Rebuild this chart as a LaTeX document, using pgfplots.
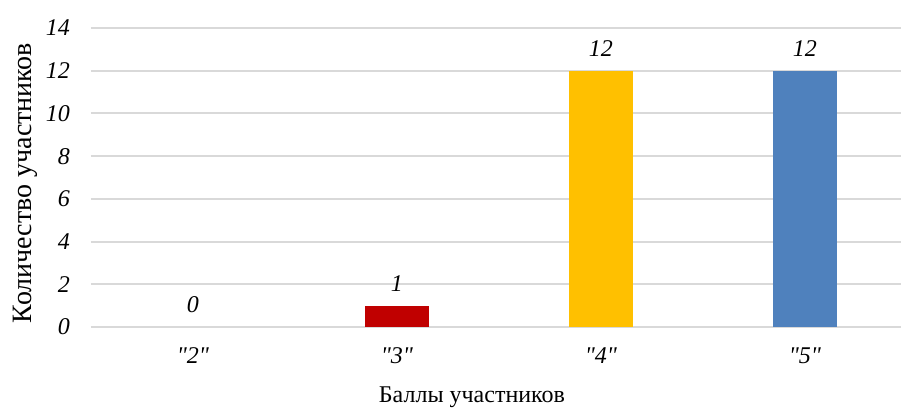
\documentclass[border=0pt]{standalone}
\usepackage{fontspec}
\setmainfont{Liberation Serif}
\usepackage{pgfplots}
\pgfplotsset{compat=1.18}
\definecolor{cred}{HTML}{C00000}
\definecolor{cyel}{HTML}{FFC000}
\definecolor{cblue}{HTML}{4F81BD}
\definecolor{cgrid}{HTML}{D9D9D9}
\begin{document}
\begin{tikzpicture}
\useasboundingbox (-45.5pt,-40.5pt) rectangle (405pt,163.5pt);
\begin{axis}[
  at={(0,0)}, anchor=south west,
  scale only axis, width=408pt, height=149.5pt,
  xmin=-0.5, xmax=3.5, ymin=0, ymax=14,
  ytick={0,2,...,14},
  xtick={0,1,2,3},
  xticklabels={\textquotedbl2\textquotedbl,\textquotedbl3\textquotedbl,\textquotedbl4\textquotedbl,\textquotedbl5\textquotedbl},
  /pgf/number format/assume math mode=true,
  ticklabel style={font=\fontsize{12}{14}\selectfont\itshape},
  major tick length=0pt,
  axis line style={draw=none},
  ymajorgrids, major grid style={draw=cgrid, line width=1pt},
  yticklabel style={xshift=-7pt},
  xticklabel style={yshift=-7pt},
  ybar, bar width=32pt, bar shift=0pt,
  nodes near coords,
  every node near coord/.append style={font=\fontsize{12}{14}\selectfont\itshape, yshift=3.5pt},
  xlabel={Баллы участников},
  ylabel={Количество участников},
  xlabel style={font=\fontsize{12}{14}\selectfont, at={(axis description cs:0.4669,0)}, anchor=center, yshift=-35pt},
  ylabel style={font=\fontsize{14}{16}\selectfont, at={(axis description cs:-0.0809,0.4816)}, anchor=center},
]
\addplot[fill=none, draw=none] coordinates {(0,0)};
\addplot[fill=cred, draw=none] coordinates {(1,1)};
\addplot[fill=cyel, draw=none] coordinates {(2,12)};
\addplot[fill=cblue, draw=none] coordinates {(3,12)};
\end{axis}
\end{tikzpicture}
\end{document}
